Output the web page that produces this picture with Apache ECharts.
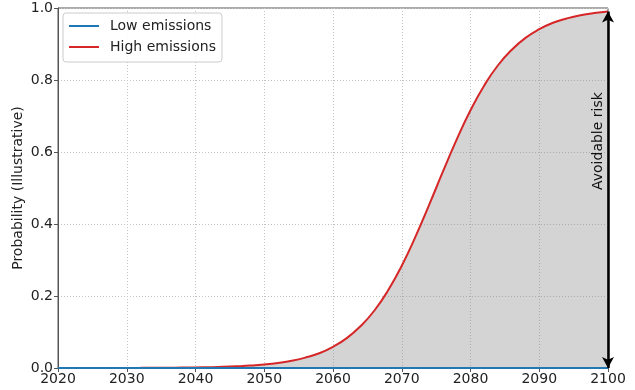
<!DOCTYPE html>
<html>
<head>
<meta charset="utf-8">
<script src="https://cdn.jsdelivr.net/npm/echarts@6/dist/echarts.min.js"></script>
<style>
  html, body { margin: 0; padding: 0; background: #fff; }
  #chart { width: 635px; height: 390px; }
</style>
</head>
<body>
<div id="chart"></div>
<script>
// Years sampled every two years
const years = [2020, 2022, 2024, 2026, 2028, 2030, 2032, 2034, 2036, 2038,
               2040, 2042, 2044, 2046, 2048, 2050, 2052, 2054, 2056, 2058,
               2060, 2062, 2064, 2066, 2068, 2070, 2072, 2074, 2076, 2078,
               2080, 2082, 2084, 2086, 2088, 2090, 2092, 2094, 2096, 2098, 2100];

// Probability under the low-emissions pathway (stays flat near zero)
const lowEmissions = [0, 0, 0, 0, 0, 0, 0, 0, 0, 0,
                      0, 0, 0, 0, 0, 0, 0, 0, 0, 0,
                      0, 0, 0, 0, 0, 0, 0, 0, 0, 0,
                      0, 0, 0, 0, 0, 0, 0, 0, 0, 0, 0];

// Probability under the high-emissions pathway
const highEmissions = [0.0000, 0.0001, 0.0001, 0.0001, 0.0002, 0.0003, 0.0004, 0.0006, 0.0008, 0.0011,
                       0.0015, 0.0022, 0.0032, 0.0047, 0.0067, 0.0097, 0.014, 0.020, 0.029, 0.041,
                       0.059, 0.083, 0.116, 0.159, 0.215, 0.284, 0.365, 0.454, 0.546, 0.635,
                       0.716, 0.785, 0.841, 0.884, 0.917, 0.941, 0.959, 0.971, 0.980, 0.986, 0.990];

const xTicks = [2020, 2030, 2040, 2050, 2060, 2070, 2080, 2090, 2100];
const yTicks = [0.0, 0.2, 0.4, 0.6, 0.8, 1.0];
const riskLabel = 'Avoidable risk';

const FONT = 'DejaVu Sans';
const chart = echarts.init(document.getElementById('chart'), null, { renderer: 'canvas' });

const lowPairs = years.map((y, i) => [y, lowEmissions[i]]);
const highPairs = years.map((y, i) => [y, highEmissions[i]]);
const lastYear = years[years.length - 1];
const lastHigh = highEmissions[highEmissions.length - 1];
const lastLow = lowEmissions[lowEmissions.length - 1];

const option = {
  animation: false,
  textStyle: { fontFamily: FONT },
  grid: {
    left: 58, right: 27, top: 8, bottom: 22,
    outerBoundsMode: 'none',
    containLabel: false,
    show: true, borderColor: '#555', borderWidth: 1,
    backgroundColor: 'transparent'
  },
  legend: {
    orient: 'vertical',
    left: 63, top: 13,
    data: [
      { name: 'Low emissions', icon: 'rect' },
      { name: 'High emissions', icon: 'rect' }
    ],
    itemWidth: 30, itemHeight: 2, itemGap: 5,
    padding: [5, 6, 7, 6],
    backgroundColor: 'rgba(255,255,255,0.85)',
    borderColor: '#cccccc', borderWidth: 1, borderRadius: 3,
    textStyle: { fontFamily: FONT, fontSize: 14, color: '#222', padding: [0, 0, 0, 6],
                 lineHeight: 16 }
  },
  xAxis: {
    type: 'value',
    min: xTicks[0], max: xTicks[xTicks.length - 1], interval: 10,
    axisLine: { show: true, onZero: false, lineStyle: { color: '#555', width: 1 } },
    axisTick: { show: true, length: 4, lineStyle: { color: '#555' } },
    axisLabel: { color: '#222', fontSize: 14, fontFamily: FONT, margin: 4,
                 formatter: v => String(v) },
    splitLine: { show: true, lineStyle: { color: '#c4c4c4', type: [1, 2], width: 1 } }
  },
  yAxis: {
    type: 'value',
    min: yTicks[0], max: yTicks[yTicks.length - 1], interval: 0.2,
    name: 'Probability (Illustrative)',
    nameLocation: 'middle', nameGap: 33,
    nameMoveOverlap: false,
    nameTextStyle: { color: '#222', fontSize: 14, fontFamily: FONT },
    axisLine: { show: true, lineStyle: { color: '#555', width: 1 } },
    axisTick: { show: true, length: 4, lineStyle: { color: '#555' } },
    axisLabel: { color: '#222', fontSize: 14, fontFamily: FONT, margin: 5,
                 formatter: v => v.toFixed(1) },
    splitLine: { show: true, lineStyle: { color: '#c4c4c4', type: [1, 2], width: 1 } }
  },
  series: [
    {
      name: 'High emissions',
      type: 'line',
      data: highPairs,
      smooth: true,
      showSymbol: false,
      symbol: 'none',
      lineStyle: { color: '#d62728', width: 2 },
      itemStyle: { color: '#d62728' },
      areaStyle: { color: 'rgba(120,120,120,0.32)', opacity: 1, origin: 'start' },
      z: 3,
      markLine: {
        silent: true,
        symbol: ['arrow', 'arrow'],
        symbolSize: [9, 11],
        label: { show: false },
        lineStyle: { color: '#000', width: 2.5, type: 'solid' },
        data: [[{ coord: [lastYear, lastLow] }, { coord: [lastYear, lastHigh] }]]
      }
    },
    {
      name: 'Low emissions',
      type: 'line',
      data: lowPairs,
      showSymbol: false,
      symbol: 'none',
      lineStyle: { color: '#1f77b4', width: 2 },
      itemStyle: { color: '#1f77b4' },
      z: 4
    }
  ]
};

chart.setOption(option);

// Label for the arrow, placed beside it starting at mid-height
const anchor = chart.convertToPixel({ gridIndex: 0 }, [lastYear, 0.5]);
chart.setOption({
  graphic: [{
    type: 'text',
    x: anchor[0] - 3,
    y: anchor[1] + 2,
    rotation: Math.PI / 2,
    style: {
      text: riskLabel,
      fontFamily: FONT,
      fontSize: 14,
      fill: '#111',
      align: 'left',
      verticalAlign: 'bottom'
    },
    z: 10
  }]
});
</script>
</body>
</html>
